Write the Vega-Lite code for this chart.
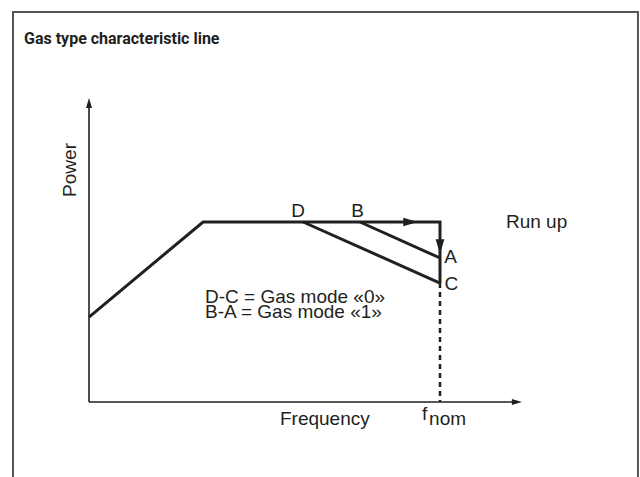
{
  "$schema": "https://vega.github.io/schema/vega-lite/v6.json",
  "width": 640,
  "height": 477,
  "padding": 0,
  "autosize": {"type": "none"},
  "background": "white",
  "config": {"view": {"stroke": null}},
  "datasets": {
    "segments": [
      {"seg": "curve", "o": 1, "f": 0, "p": 47.2},
      {"seg": "curve", "o": 2, "f": 32.5, "p": 100},
      {"seg": "curve", "o": 3, "f": 100, "p": 100},
      {"seg": "curve", "o": 4, "f": 100, "p": 66.1},
      {"seg": "DC", "o": 1, "f": 61.0, "p": 100},
      {"seg": "DC", "o": 2, "f": 100, "p": 66.1},
      {"seg": "BA", "o": 1, "f": 77.2, "p": 100},
      {"seg": "BA", "o": 2, "f": 100, "p": 80},
      {"seg": "yaxis", "o": 1, "f": 0, "p": 0},
      {"seg": "yaxis", "o": 2, "f": 0, "p": 166},
      {"seg": "xaxis", "o": 1, "f": 0, "p": 0},
      {"seg": "xaxis", "o": 2, "f": 121, "p": 0},
      {"seg": "fnom", "o": 1, "f": 100, "p": 66.1},
      {"seg": "fnom", "o": 2, "f": 100, "p": 0}
    ],
    "arrows": [
      {"kind": "run", "dir": "right", "f": 91.6, "p": 100},
      {"kind": "run", "dir": "down", "f": 100, "p": 86.4},
      {"kind": "axis", "dir": "up", "f": 0, "p": 166.1},
      {"kind": "axis", "dir": "right", "f": 121.9, "p": 0}
    ],
    "labels": [
      {"label": "D", "f": 57.6, "p": 102.8},
      {"label": "B", "f": 74.7, "p": 102.8},
      {"label": "A", "f": 101.2, "p": 77.2},
      {"label": "C", "f": 101.3, "p": 62.2},
      {"label": "Run up", "f": 118.8, "p": 96.7},
      {"label": "Frequency", "f": 54.4, "p": -12.8},
      {"label": "f", "f": 94.9, "p": -10},
      {"label": "nom", "f": 96.9, "p": -12.8}
    ],
    "legendText": [
      {"label": "D-C = Gas mode «0»\nB-A = Gas mode «1»", "f": 33.05, "p": 55}
    ],
    "axisTitles": [
      {"label": "Power", "f": -5.41, "p": 128.9}
    ],
    "heading": [
      {"label": "Gas type characteristic line", "f": -18.52, "p": 198.9}
    ],
    "frame": [
      {"f1": -21.65, "f2": 156.4, "p1": -60, "p2": 216.7}
    ]
  },
  "encoding": {
    "x": {"field": "f", "type": "quantitative", "scale": {"domain": [-25.356, 156.98], "nice": false, "zero": false}, "axis": null},
    "y": {"field": "p", "type": "quantitative", "scale": {"domain": [-41.667, 223.333], "nice": false, "zero": false}, "axis": null}
  },
  "layer": [
    {
      "data": {"name": "frame"},
      "mark": {"type": "rect", "fill": null, "stroke": "#555555", "strokeWidth": 2},
      "encoding": {
        "x": {"field": "f1", "type": "quantitative"},
        "x2": {"field": "f2"},
        "y": {"field": "p1", "type": "quantitative"},
        "y2": {"field": "p2"}
      }
    },
    {
      "data": {"name": "segments"},
      "transform": [{"filter": "datum.seg === 'xaxis' || datum.seg === 'yaxis'"}],
      "mark": {"type": "line", "color": "#231f20", "strokeWidth": 1.6},
      "encoding": {"detail": {"field": "seg"}, "order": {"field": "o"}}
    },
    {
      "data": {"name": "segments"},
      "transform": [{"filter": "datum.seg === 'fnom'"}],
      "mark": {"type": "line", "color": "#231f20", "strokeWidth": 2.5, "strokeDash": [5, 4]},
      "encoding": {"detail": {"field": "seg"}, "order": {"field": "o"}}
    },
    {
      "data": {"name": "segments"},
      "transform": [{"filter": "datum.seg === 'curve' || datum.seg === 'DC' || datum.seg === 'BA'"}],
      "mark": {"type": "line", "color": "#231f20", "strokeWidth": 3, "strokeJoin": "miter"},
      "encoding": {"detail": {"field": "seg"}, "order": {"field": "o"}}
    },
    {
      "data": {"name": "arrows"},
      "transform": [{"filter": "datum.kind === 'run'"}],
      "mark": {"type": "point", "filled": true, "opacity": 1, "color": "#231f20", "size": 210},
      "encoding": {
        "shape": {"field": "dir", "type": "nominal", "legend": null, "scale": {"domain": ["right", "down", "up"], "range": ["M-1,-0.6L1,0L-1,0.6Z", "M-0.6,-1L0,1L0.6,-1Z", "M-0.6,1L0,-1L0.6,1Z"]}}
      }
    },
    {
      "data": {"name": "arrows"},
      "transform": [{"filter": "datum.kind === 'axis'"}],
      "mark": {"type": "point", "filled": true, "opacity": 1, "color": "#231f20", "size": 100},
      "encoding": {
        "shape": {"field": "dir", "type": "nominal", "legend": null, "scale": {"domain": ["right", "down", "up"], "range": ["M-1,-0.6L1,0L-1,0.6Z", "M-0.6,-1L0,1L0.6,-1Z", "M-0.6,1L0,-1L0.6,1Z"]}}
      }
    },
    {
      "data": {"name": "labels"},
      "mark": {"type": "text", "align": "left", "baseline": "alphabetic", "font": "Liberation Sans", "fontSize": 19, "color": "#231f20"},
      "encoding": {"text": {"field": "label"}}
    },
    {
      "data": {"name": "legendText"},
      "mark": {"type": "text", "align": "left", "baseline": "alphabetic", "lineBreak": "\n", "lineHeight": 15.5, "font": "Liberation Sans", "fontSize": 19, "color": "#231f20"},
      "encoding": {"text": {"field": "label"}}
    },
    {
      "data": {"name": "axisTitles"},
      "mark": {"type": "text", "align": "center", "baseline": "middle", "angle": 270, "font": "Liberation Sans", "fontSize": 19, "color": "#231f20"},
      "encoding": {"text": {"field": "label"}}
    },
    {
      "data": {"name": "heading"},
      "mark": {"type": "text", "align": "left", "baseline": "alphabetic", "font": "Roboto", "fontWeight": "bold", "fontSize": 16, "color": "#231f20"},
      "encoding": {"text": {"field": "label"}}
    }
  ]
}
